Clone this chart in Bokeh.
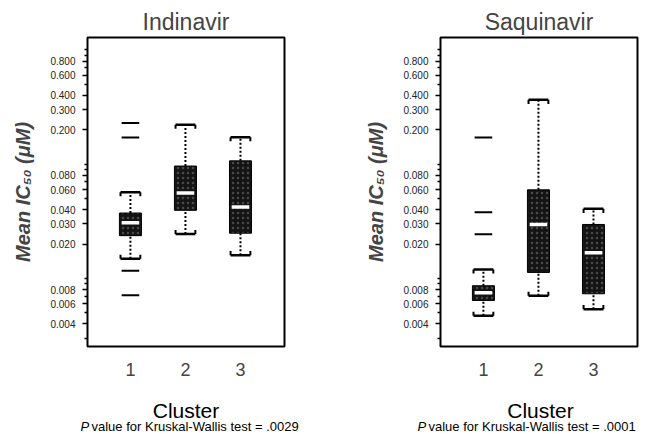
from bokeh.plotting import figure
from bokeh.layouts import row, column
from bokeh.models import Range1d, FixedTicker, PrintfTickFormatter
from bokeh.core.properties import value
from bokeh.embed import file_html
from bokeh.resources import INLINE

FONT = "Liberation Sans"

# ---- data ----
clusters = [1, 2, 3]
tick_labels = ["1", "2", "3"]

ind_q1 = [0.0237, 0.0395, 0.0249]
ind_median = [0.0308, 0.056, 0.0422]
ind_q3 = [0.0374, 0.0964, 0.107]
ind_lower = [0.0149, 0.0245, 0.016]
ind_upper = [0.0568, 0.222, 0.172]
ind_out_cluster = [1, 1, 1, 1]
ind_out_value = [0.229, 0.171, 0.0117, 0.00713]

saq_q1 = [0.00642, 0.0113, 0.00735]
saq_median = [0.0075, 0.0297, 0.0168]
saq_q3 = [0.00864, 0.0597, 0.0297]
saq_lower = [0.00472, 0.00706, 0.00539]
saq_upper = [0.012, 0.366, 0.0407]
saq_out_cluster = [1, 1, 1]
saq_out_value = [0.171, 0.038, 0.0244]

titles = ["Indinavir", "Saquinavir"]
p_values = [".0029", ".0001"]
x_title = "Cluster"

y_major = [0.004, 0.006, 0.008, 0.02, 0.03, 0.04, 0.06, 0.08, 0.2, 0.3, 0.4, 0.6, 0.8]
y_minor = [0.003, 0.005, 0.007, 0.009, 0.01, 0.05, 0.07, 0.09, 0.1, 0.5, 0.7, 0.9, 1.0]


def panel(title, q1, med, q3, lo, hi, oc, ov, left_border, right_border):
    p = figure(width=324, height=385, y_axis_type="log", output_backend="svg",
               toolbar_location=None, x_range=Range1d(0.22, 3.8),
               y_range=Range1d(0.00254, 1.285),
               min_border_left=left_border, min_border_right=right_border,
               min_border_top=37, min_border_bottom=39)
    p.title.text = title
    p.title.align = "center"
    p.title.text_font = FONT
    p.title.text_font_size = "23px"
    p.title.text_font_style = "normal"
    p.title.standoff = 5
    p.grid.visible = False
    p.outline_line_color = "black"
    p.outline_line_width = 2
    p.outline_line_alpha = 1

    bw = 0.4
    p.vbar(x=clusters, width=bw, top=q3, bottom=q1, fill_color="#141414",
           line_color="black", line_width=1,
           hatch_pattern="dot", hatch_color="#8a8a8a", hatch_scale=5,
           hatch_weight=0.7, hatch_alpha=0.45)
    # whiskers
    p.segment(x0=clusters, y0=q3, x1=clusters, y1=hi, line_color="black",
              line_width=2, line_dash="2 2")
    p.segment(x0=clusters, y0=lo, x1=clusters, y1=q1, line_color="black",
              line_width=2, line_dash="2 2")
    # caps (bracket shaped)
    cw = 0.18
    xl = [c - cw for c in clusters]
    xr = [c + cw for c in clusters]
    for v, k in ((hi, 1 / 1.085), (lo, 1.085)):
        p.segment(x0=xl, y0=v, x1=xr, y1=v, line_color="black", line_width=2.5)
        vk = [a * k for a in v]
        p.segment(x0=xl, y0=v, x1=xl, y1=vk, line_color="black", line_width=2)
        p.segment(x0=xr, y0=v, x1=xr, y1=vk, line_color="black", line_width=2)
    # medians
    mw = 0.16
    p.segment(x0=[c - mw for c in clusters], y0=med, x1=[c + mw for c in clusters],
              y1=med, line_color="white", line_width=3.5)
    # outliers
    ow = 0.16
    p.segment(x0=[c - ow for c in oc], y0=ov, x1=[c + ow for c in oc], y1=ov,
              line_color="black", line_width=2)

    # y axis
    ya = p.yaxis[0]
    ya.ticker = FixedTicker(ticks=y_major, minor_ticks=y_minor)
    ya.formatter = PrintfTickFormatter(format="%.3f")
    ya.axis_line_color = None
    ya.major_tick_in = 0
    ya.major_tick_out = 5
    ya.minor_tick_in = 0
    ya.minor_tick_out = 3
    ya.major_tick_line_width = 1.5
    ya.minor_tick_line_width = 1.5
    ya.major_label_text_font = FONT
    ya.major_label_text_font_size = "10px"
    ya.major_label_text_color = "#222222"
    ya.major_label_standoff = 7
    ya.axis_label = "Mean IC\u2085\u2080 (\u03bcM)"
    ya.axis_label_text_font = FONT
    ya.axis_label_text_font_size = "20px"
    ya.axis_label_text_font_style = "bold italic"
    ya.axis_label_standoff = 13

    # x axis
    xa = p.xaxis[0]
    xa.ticker = FixedTicker(ticks=clusters, minor_ticks=[])
    xa.major_label_overrides = {c: t for c, t in zip(clusters, tick_labels)}
    xa.axis_line_color = None
    xa.major_tick_out = 0
    xa.major_tick_in = 0
    xa.major_label_text_font = FONT
    xa.major_label_text_font_size = "18px"
    xa.major_label_standoff = 16
    return p


p1 = panel(titles[0], ind_q1, ind_median, ind_q3, ind_lower, ind_upper,
           ind_out_cluster, ind_out_value, 87, 40)
p2 = panel(titles[1], saq_q1, saq_median, saq_q3, saq_lower, saq_upper,
           saq_out_cluster, saq_out_value, 116, 11)

# strip below the panels with the axis titles and the test results
foot = figure(width=648, height=49, output_backend="svg", toolbar_location=None,
              x_range=Range1d(0, 648), y_range=Range1d(0, 49),
              x_axis_type=None, y_axis_type=None, min_border=0)
foot.grid.visible = False
foot.outline_line_color = None
foot.text(x=[185.5, 540], y=[24, 24], text=[x_title, x_title],
          text_font=value(FONT), text_font_size="21px", text_align="center",
          text_baseline="middle", text_color="black")
foot.text(x=[80, 417], y=[8, 8], text=["P", "P"], text_font=value(FONT),
          text_font_size="13px", text_font_style="italic", text_align="left",
          text_baseline="middle", text_color="black")
foot.text(x=[91, 428], y=[8, 8],
          text=["value for Kruskal-Wallis test = " + pv for pv in p_values],
          text_font=value(FONT), text_font_size="13px", text_align="left",
          text_baseline="middle", text_color="black")

layout = column(row(p1, p2), foot)
open("out.html", "w").write(file_html(layout, INLINE))
